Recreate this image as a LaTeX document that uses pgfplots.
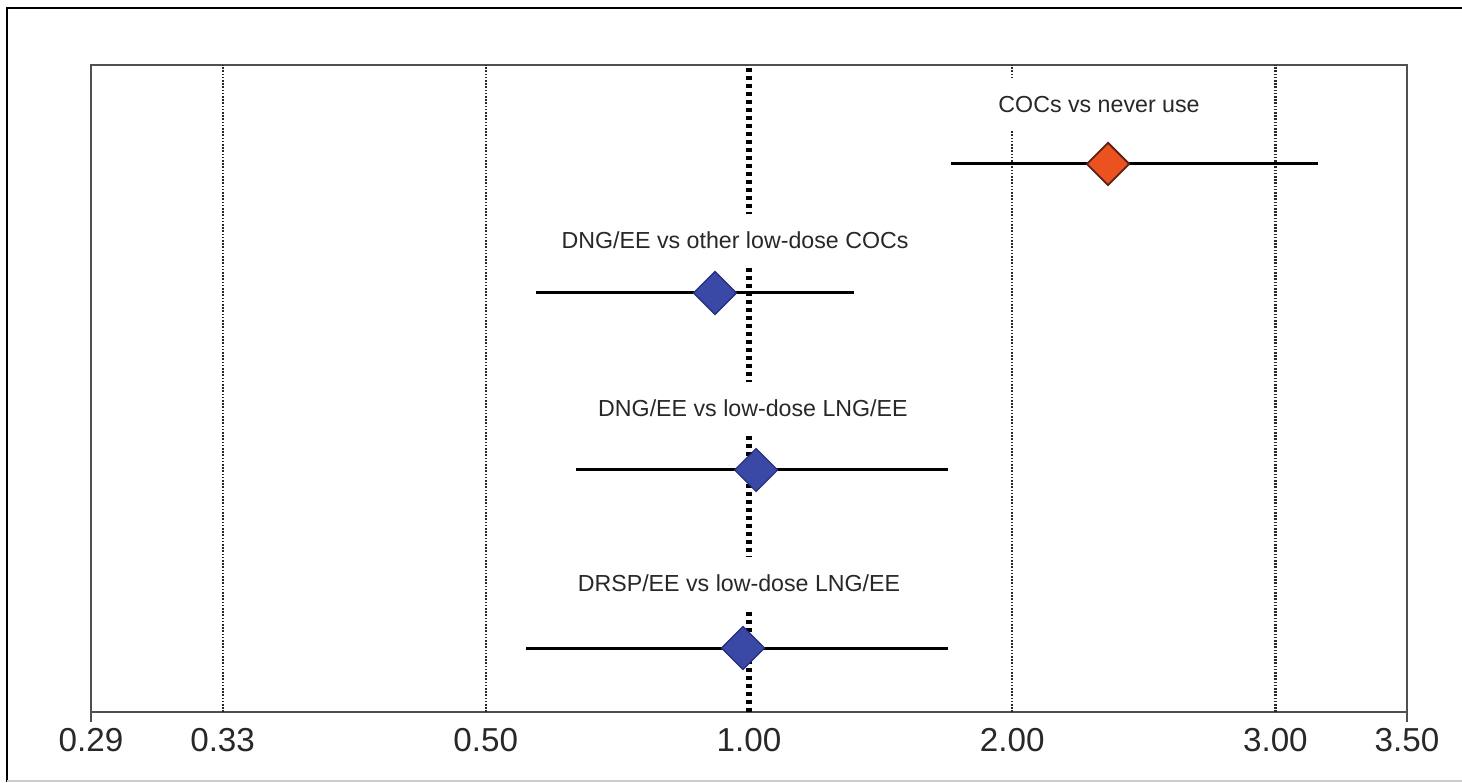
\documentclass[border=0pt]{standalone}
\usepackage{fontspec}
\setmainfont{Liberation Sans}
\usepackage{pgfplots}
\pgfplotsset{compat=1.18}
\definecolor{axisgray}{RGB}{80,80,80}
\definecolor{txtgray}{RGB}{40,40,40}
\definecolor{cocorange}{RGB}{236,82,32}
\definecolor{cocedge}{RGB}{90,35,20}
\definecolor{dngblue}{RGB}{58,72,166}
\definecolor{dngedge}{RGB}{35,45,120}
\begin{document}
\begin{tikzpicture}
% picture frame (1px = 0.5pt)
\path[use as bounding box] (0,0) rectangle (731pt,391pt);
\draw[black, line width=1.1pt] (3.5pt,0pt) -- (3.5pt,387pt) -- (731pt,387pt);
\draw[black!20, line width=0.8pt] (3.5pt,0.4pt) -- (731pt,0.4pt);
% x values are plotted on the reciprocal-symmetric scale of the figure:
% t = OR-1 for OR>=1, t = 1-1/OR for OR<1
\begin{axis}[
  at={(45.5pt,35pt)}, anchor=south west,
  width=658pt, height=323.5pt, scale only axis,
  xmin=-2.5, xmax=2.5, ymin=0, ymax=6.47,
  clip=false,
  axis line style={draw=axisgray, line width=1.4pt},
  ytick=\empty,
  xtick={-2.5,-2,-1,0,1,2,2.5},
  xticklabels={0.29,0.33,0.50,1.00,2.00,3.00,3.50},
  major tick length=0pt,
  /pgf/number format/assume math mode=true,
  xticklabel style={font=\fontsize{16.6}{19}\selectfont, text=txtgray, yshift=-4.5pt},
]
% reference lines
\tikzset{gl/.style={txtgray, line width=1.1pt, dash pattern=on 0.8pt off 0.8pt}}
\draw[gl] (axis cs:-2,0) -- (axis cs:-2,6.47);
\draw[gl] (axis cs:-1,0) -- (axis cs:-1,6.47);
\draw[gl] (axis cs:1,0) -- (axis cs:1,6.47);
\draw[gl] (axis cs:2,0) -- (axis cs:2,6.47);
% end ticks
\draw[axisgray, line width=1.4pt] (axis cs:-2.5,0) -- ([yshift=-5pt]axis cs:-2.5,0);
\draw[axisgray, line width=1.4pt] (axis cs:2.5,0) -- ([yshift=-5pt]axis cs:2.5,0);
% confidence intervals
\addplot[black, line width=1.5pt] coordinates {(0.768,5.48) (2.162,5.48)};
\addplot[black, line width=1.5pt] coordinates {(-0.809,4.19) (0.399,4.19)};
\addplot[black, line width=1.5pt] coordinates {(-0.657,2.42) (0.756,2.42)};
\addplot[black, line width=1.5pt] coordinates {(-0.847,0.64) (0.756,0.64)};
% point estimates
\addplot[only marks, mark=square*, mark size=7.5pt,
  mark options={rotate=45, fill=cocorange, draw=cocedge, line width=0.9pt}]
  coordinates {(1.364,5.48)};
\addplot[only marks, mark=square*, mark size=7.6pt,
  mark options={rotate=45, fill=dngblue, draw=dngedge, line width=0.6pt}]
  coordinates {(-0.129,4.19) (0.027,2.42) (-0.023,0.64)};
% line of no effect
\draw[black, line width=2.6pt, dash pattern=on 2pt off 2pt] (axis cs:0,0) -- (axis cs:0,6.47);
% labels
\tikzset{lab/.style={fill=white, inner xsep=4pt, inner ysep=8.5pt, text=txtgray,
  font=\fontsize{11.6}{13}\selectfont}}
\node[lab] at (axis cs:1.33,6.07) {COCs vs never use};
\node[lab] at (axis cs:-0.053,4.72) {DNG/EE vs other low-dose COCs};
\node[lab] at (axis cs:0.015,3.04) {DNG/EE vs low-dose LNG/EE};
\node[lab] at (axis cs:-0.038,1.29) {DRSP/EE vs low-dose LNG/EE};
\end{axis}
\end{tikzpicture}
\end{document}
